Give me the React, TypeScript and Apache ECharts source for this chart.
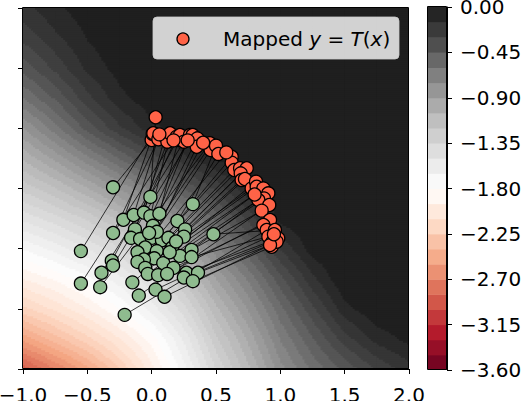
import React, { useEffect, useRef } from "react";
import * as echarts from "echarts";

// ---------- data ----------
// potential field grid (rows: y from 2 down to -1, cols: x from -1 to 2)
const FIELD_X = [-1, -0.75, -0.5, -0.25, 0, 0.25, 0.5, 0.75, 1, 1.25, 1.5, 1.75, 2];
const FIELD_Y = [2, 1.75, 1.5, 1.25, 1, 0.75, 0.5, 0.25, 0, -0.25, -0.5, -0.75, -1];
const FIELD = [
  [-0.18, -0.09, -0.03, 0, 0, 0, 0, 0, 0, 0, 0, 0, 0],
  [-0.28, -0.17, -0.07, -0.01, 0, 0, 0, 0, 0, 0, 0, 0, 0],
  [-0.42, -0.28, -0.13, -0.04, 0, 0, 0, 0, 0, 0, 0, 0, 0],
  [-0.6, -0.44, -0.25, -0.1, -0.02, 0, 0, 0, 0, 0, 0, 0, 0],
  [-0.83, -0.63, -0.42, -0.24, -0.1, -0.02, 0, 0, 0, 0, 0, 0, 0],
  [-1.04, -0.88, -0.7, -0.52, -0.35, -0.17, -0.06, 0, 0, 0, 0, 0, 0],
  [-1.25, -1.13, -0.98, -0.82, -0.65, -0.45, -0.28, -0.08, 0, 0, 0, 0, 0],
  [-1.48, -1.38, -1.26, -1.1, -0.92, -0.72, -0.5, -0.28, -0.04, 0, 0, 0, 0],
  [-1.72, -1.62, -1.5, -1.36, -1.18, -0.95, -0.7, -0.47, -0.22, -0.03, 0, 0, 0],
  [-1.95, -1.86, -1.75, -1.6, -1.42, -1.18, -0.9, -0.66, -0.4, -0.17, 0, 0, 0],
  [-2.2, -2.08, -1.95, -1.8, -1.62, -1.38, -1.07, -0.82, -0.55, -0.32, -0.1, -0.01, 0],
  [-2.52, -2.36, -2.2, -2.03, -1.84, -1.56, -1.22, -0.96, -0.67, -0.46, -0.26, -0.12, -0.05],
  [-2.9, -2.7, -2.5, -2.25, -1.98, -1.68, -1.35, -1.07, -0.78, -0.58, -0.43, -0.29, -0.18],
];

// source samples x (green)
const SRC_X = [-0.3, -0.01, 0.32, -0.22, -0.14, -0.06, -0.01, 0.06, 0.2, 0.01, -0.13, -0.3, 0.26, 0.48,
  -0.16, 0.25, -0.09, 0.0, 0.08, 0.13, -0.55, -0.05, 0.16, 0.31, 0.04, -0.11, 0.22, 0.31, 0.02, -0.06,
  -0.11, -0.31, -0.3, 0.09, 0.17, -0.05, -0.39, 0.27, 0.36, -0.03, 0.05, 0.12, 0.25, -0.55, -0.4, -0.15,
  0.32, 0.03, -0.1, 0.1, -0.21, 0.04, 0.14, -0.02, 0.19];
const SRC_Y = [0.51, 0.43, 0.37, 0.24, 0.28, 0.3, 0.27, 0.29, 0.23, 0.19, 0.16, 0.13, 0.16, 0.12,
  0.09, 0.1, 0.08, 0.09, 0.07, 0.09, -0.02, 0.01, 0.01, -0.01, -0.02, -0.03, -0.06, -0.07, -0.08, -0.09,
  -0.11, -0.1, -0.14, -0.12, -0.16, -0.16, -0.2, -0.2, -0.2, -0.21, -0.22, -0.21, -0.24, -0.29, -0.32, -0.28,
  -0.27, -0.34, -0.39, -0.4, -0.55, 0.14, -0.03, 0.13, 0.06];

// mapped samples y = T(x) (red)
const MAP_X = [0.0, 0.008, 0.013, 0.031, 0.052, 0.104, 0.122, 0.143, 0.195, 0.207, 0.22, 0.251, 0.298, 0.319,
  0.355, 0.35, 0.448, 0.453, 0.458, 0.5, 0.518, 0.622, 0.622, 0.642, 0.687, 0.739, 0.692, 0.699, 0.725,
  0.777, 0.811, 0.816, 0.868, 0.907, 0.873, 0.829, 0.914, 0.855, 0.92, 0.868, 0.894, 0.958, 0.907, 0.984,
  0.94, 0.933, 0.971, 0.06, 0.17, 0.28, 0.8, 0.92, 0.95, 0.4, 0.58];
const MAP_Y = [0.903, 0.953, 0.959, 1.092, 0.909, 0.931, 0.889, 0.959, 0.931, 0.903, 0.945, 0.889, 0.945, 0.945,
  0.917, 0.847, 0.847, 0.876, 0.82, 0.856, 0.787, 0.764, 0.715, 0.654, 0.668, 0.668, 0.626, 0.571, 0.579,
  0.501, 0.557, 0.515, 0.501, 0.46, 0.418, 0.404, 0.363, 0.316, 0.238, 0.197, 0.155, 0.155, 0.1, 0.086,
  0.058, 0.016, 0.058, 0.95, 0.9, 0.9, 0.45, 0.03, 0.12, 0.88, 0.8];

const X_MIN = -1, X_MAX = 2, X_STEP = 0.5;
const Y_MIN = -1, Y_MAX = 2, Y_STEP = 0.5;
const CB_MIN = -3.6, CB_MAX = 0, CB_STEP = 0.45, CB_BANDS = 24;
const FIELD_LEVEL_STEP = 0.075;
const LEGEND_LABEL = "{n|Mapped }{i|y}{n| = }{i|T}{n|(}{i|x}{n|)}";

// ---------- helpers ----------
const RDGY = ["#67001f", "#b2182b", "#d6604d", "#f4a582", "#fddbc7", "#ffffff", "#e0e0e0", "#bababa", "#878787", "#4d4d4d", "#1a1a1a"];
const hex = (h: string) => [parseInt(h.slice(1, 3), 16), parseInt(h.slice(3, 5), 16), parseInt(h.slice(5, 7), 16)];
const RDGY_RGB = RDGY.map(hex);
function cmap(t: number): string {
  const tt = Math.max(0, Math.min(1, t)) * 10;
  const i = Math.min(9, Math.floor(tt));
  const f = tt - i;
  const a = RDGY_RGB[i], b = RDGY_RGB[i + 1];
  const c = a.map((v, k) => Math.round(v + (b[k] - v) * f));
  return `rgb(${c[0]},${c[1]},${c[2]})`;
}
const NLEV = Math.round((CB_MAX - CB_MIN) / FIELD_LEVEL_STEP);
const LEVEL_COLORS = Array.from({ length: NLEV }, (_, k) => cmap((k + 0.5) / NLEV));
const band = (v: number) => Math.max(0, Math.min(NLEV - 1, Math.floor((v - CB_MIN) / FIELD_LEVEL_STEP + 1e-9)));
const fmt = (v: number, d: number) => {
  const s = (Math.abs(v) < 1e-9 ? 0 : v).toFixed(d);
  return s.replace("-", "\u2212");
};

const FONT = "DejaVu Sans";

export default function App() {
  const ref = useRef<HTMLDivElement>(null);
  useEffect(() => {
    if (!ref.current) return;
    const chart = echarts.init(ref.current, undefined, { renderer: "svg" });

    // field cells
    const cells: number[][] = [];
    for (let j = 0; j < FIELD_Y.length - 1; j++)
      for (let i = 0; i < FIELD_X.length - 1; i++)
        cells.push([(FIELD_X[i] + FIELD_X[i + 1]) / 2, (FIELD_Y[j] + FIELD_Y[j + 1]) / 2, i, j]);

    const N = 16;
    const OV = 1.1;
    const renderField = (params: any, api: any) => {
      const i = api.value(2), j = api.value(3);
      const pTL = api.coord([FIELD_X[i], FIELD_Y[j]]);
      const pBR = api.coord([FIELD_X[i + 1], FIELD_Y[j + 1]]);
      const w = (pBR[0] - pTL[0]) / N, h = (pBR[1] - pTL[1]) / N;
      const vTL = FIELD[j][i], vTR = FIELD[j][i + 1], vBL = FIELD[j + 1][i], vBR = FIELD[j + 1][i + 1];
      const children: any[] = [];
      for (let r = 0; r < N; r++) {
        const fy = (r + 0.5) / N;
        const val = (c: number) => {
          const fx = (c + 0.5) / N;
          const top = vTL + (vTR - vTL) * fx, bot = vBL + (vBR - vBL) * fx;
          return top + (bot - top) * fy;
        };
        let start = 0, b0 = band(val(0));
        for (let c = 1; c <= N; c++) {
          const b = c < N ? band(val(c)) : -1;
          if (b !== b0) {
            const lastCol = c === N && i === FIELD_X.length - 2;
            const lastRow = r === N - 1 && j === FIELD_Y.length - 2;
            children.push({
              type: "rect",
              shape: {
                x: pTL[0] + start * w, y: pTL[1] + r * h,
                width: (c - start) * w + (lastCol ? 0 : OV), height: h + (lastRow ? 0 : OV),
              },
              style: { fill: LEVEL_COLORS[b0] },
            });
            start = c; b0 = b;
          }
        }
      }
      return { type: "group", children };
    };

    const cbData = Array.from({ length: CB_BANDS }, (_, k) => {
      const lo = CB_MIN + (k * (CB_MAX - CB_MIN)) / CB_BANDS;
      const hi = CB_MIN + ((k + 1) * (CB_MAX - CB_MIN)) / CB_BANDS;
      return [0.5, (lo + hi) / 2, lo, hi, k];
    });
    const renderCb = (params: any, api: any) => {
      const p0 = api.coord([0, api.value(3)]);
      const p1 = api.coord([1, api.value(2)]);
      return {
        type: "rect",
        shape: { x: p0[0], y: p0[1], width: p1[0] - p0[0], height: p1[1] - p0[1] + (api.value(4) === 0 ? 0 : 0.5) },
        style: { fill: cmap((api.value(4) + 0.5) / CB_BANDS) },
      };
    };

    // pair sources to mapped points by monotone ordering
    const gi = SRC_X.map((_, k) => k).sort((a, b) => (SRC_Y[b] - SRC_X[b]) - (SRC_Y[a] - SRC_X[a]));
    const ri = MAP_X.map((_, k) => k).sort((a, b) => Math.atan2(MAP_Y[b], MAP_X[b]) - Math.atan2(MAP_Y[a], MAP_X[a]));
    const links = gi.map((g, k) => ({ coords: [[SRC_X[g], SRC_Y[g]], [MAP_X[ri[k]], MAP_Y[ri[k]]]] }));

    const axisLine = { show: true, onZero: false, lineStyle: { color: "#000", width: 1 } };
    const axisTick = { show: true, length: 5, lineStyle: { color: "#000", width: 1 } };
    const label = { fontFamily: FONT, fontSize: 20, color: "#000" };

    chart.setOption({
      animation: false,
      grid: [
        { left: 23, top: 8, width: 386, height: 361, containLabel: false, outerBoundsMode: "none" },
        { left: 428, top: 7, width: 19, height: 363, containLabel: false, outerBoundsMode: "none" },
      ],
      xAxis: [
        {
          type: "value", gridIndex: 0, min: X_MIN, max: X_MAX, interval: X_STEP,
          axisLine, axisTick, splitLine: { show: false },
          axisLabel: { ...label, margin: 16, showMinLabel: true, showMaxLabel: true, formatter: (v: number) => fmt(v, 1) },
        },
        { type: "value", gridIndex: 1, min: 0, max: 1, show: false },
      ],
      yAxis: [
        {
          type: "value", gridIndex: 0, min: Y_MIN, max: Y_MAX, interval: Y_STEP,
          axisLine, axisTick, splitLine: { show: false }, axisLabel: { show: false },
        },
        {
          type: "value", gridIndex: 1, min: CB_MIN, max: CB_MAX, interval: CB_STEP, position: "right",
          axisLine, axisTick, splitLine: { show: false },
          axisLabel: { ...label, margin: 13, showMinLabel: true, showMaxLabel: true, formatter: (v: number) => fmt(v, 2) },
        },
      ],
      series: [
        {
          type: "custom", xAxisIndex: 0, yAxisIndex: 0, data: cells, encode: { x: 0, y: 1 },
          renderItem: renderField, silent: true, z: 1,
        },
        {
          type: "lines", coordinateSystem: "cartesian2d", xAxisIndex: 0, yAxisIndex: 0, data: links,
          lineStyle: { color: "#000", width: 0.9, opacity: 0.85 }, silent: true, z: 3,
        },
        {
          type: "scatter", xAxisIndex: 0, yAxisIndex: 0, data: SRC_X.map((x, k) => [x, SRC_Y[k]]),
          symbolSize: 13, itemStyle: { color: "#8fbc8f", borderColor: "#000", borderWidth: 1.3, opacity: 1 }, z: 4,
        },
        {
          type: "scatter", xAxisIndex: 0, yAxisIndex: 0, data: MAP_X.map((x, k) => [x, MAP_Y[k]]),
          symbolSize: 13, itemStyle: { color: "#ff6347", borderColor: "#000", borderWidth: 1.3, opacity: 1 }, z: 5,
        },
        {
          type: "custom", xAxisIndex: 1, yAxisIndex: 1, data: cbData, encode: { x: 0, y: 1 },
          renderItem: renderCb, silent: true, z: 1,
        },
      ],
      graphic: [
        { type: "rect", z: 100, silent: true, shape: { x: 22.5, y: 7.5, width: 386, height: 361 }, style: { fill: "none", stroke: "#000", lineWidth: 1 } },
        { type: "rect", z: 100, silent: true, shape: { x: 427.5, y: 6.5, width: 19, height: 363 }, style: { fill: "none", stroke: "#000", lineWidth: 1 } },
        { type: "rect", z: 100, silent: true, shape: { x: 153, y: 17, width: 246, height: 42, r: 4 }, style: { fill: "rgba(255,255,255,0.8)", stroke: "rgba(204,204,204,0.8)", lineWidth: 1 } },
        { type: "circle", z: 101, silent: true, shape: { cx: 183, cy: 39, r: 6 }, style: { fill: "#ff6347", stroke: "#000", lineWidth: 1.3 } },
        {
          type: "text", z: 101, silent: true, x: 223, y: 39,
          style: {
            text: LEGEND_LABEL, align: "left", verticalAlign: "middle",
            fontFamily: FONT, fontSize: 20, fill: "#000",
            rich: {
              n: { fontFamily: FONT, fontSize: 20, fill: "#000" },
              i: { fontFamily: FONT, fontSize: 20, fill: "#000", fontStyle: "italic" },
            },
          },
        },
      ],
    });
    return () => chart.dispose();
  }, []);
  return <div ref={ref} style={{ position: "fixed", left: 0, top: 0, width: 524, height: 401, background: "#fff" }} />;
}
